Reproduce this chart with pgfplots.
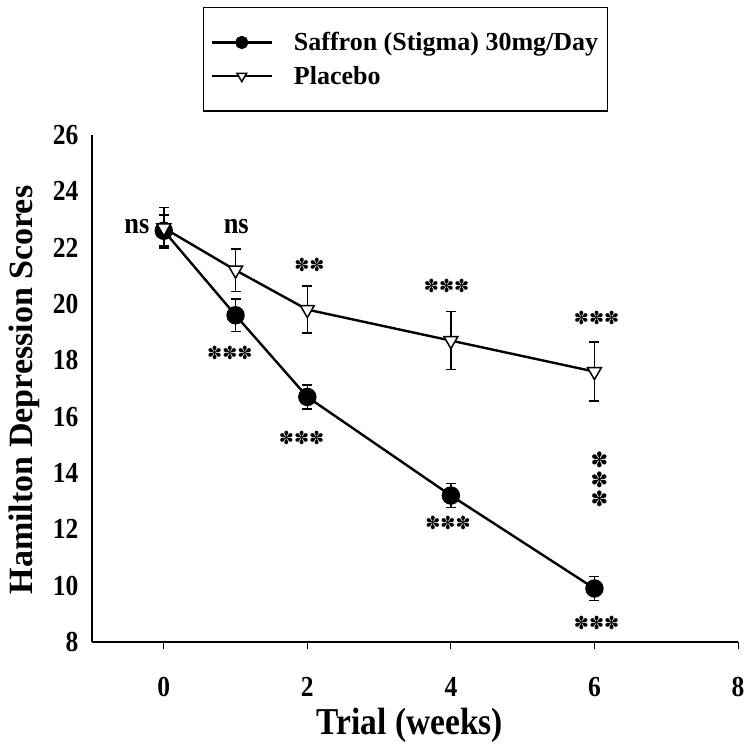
\documentclass[border=0pt]{standalone}
\usepackage{fontspec}
\setmainfont{Liberation Serif}
\newfontfamily\condfont{Liberation Serif}[FakeStretch=0.88]
\newfontfamily\symfont{DejaVu Sans}
\usepackage{pgfplots}
\usepackage{pgfplotstable}
\pgfplotsset{compat=1.18}
\pgfplotstableread{
x y e
0 22.6 0.55
1 19.6 0.57
2 16.7 0.43
4 13.2 0.43
6 9.9 0.43
}\saffron
\pgfplotstableread{
x y e
0 22.7 0.72
1 21.2 0.75
2 19.8 0.83
4 18.7 1.03
6 17.6 1.05
}\placebo
\newcommand{\st}{{\symfont\fontsize{18}{20}\selectfont ✽✽✽}}
\begin{document}
\begin{tikzpicture}
\path[use as bounding box] (-92pt,-112pt) rectangle (652pt,642pt);
\begin{axis}[
  at={(0pt,0pt)}, anchor=south west,
  scale only axis, width=646pt, height=507pt,
  xmin=-1, xmax=8, ymin=8, ymax=26,
  axis x line*=bottom, axis y line*=left,
  x axis line style={line width=2.8pt, -},
  y axis line style={line width=2.2pt, -},
  xtick={0,2,4,6,8}, ytick={8,10,...,26},
  ytick style={draw=none},
  xtick style={line width=1pt, black},
  tick align=outside, major tick length=7pt,
  /pgf/number format/assume math mode=true,
  ticklabel style={font=\condfont\fontsize{29}{32}\selectfont\bfseries},
  xticklabel style={yshift=-25pt},
  yticklabel style={xshift=-3pt},
  xlabel={Trial (weeks)},
  xlabel style={font=\condfont\fontsize{38}{42}\selectfont\bfseries, at={(axis description cs:0.492,0)}, anchor=center, yshift=-83pt},
  ylabel={Hamilton Depression Scores},
  ylabel style={font=\fontsize{34}{38}\selectfont\bfseries, at={(axis description cs:0,0.497)}, anchor=center, yshift=68pt},
  legend style={at={(axis description cs:0.172,1.2525)}, anchor=north west, draw=black, line width=1.2pt,
    font=\fontsize{26}{30}\selectfont\bfseries, inner xsep=7pt, inner ysep=23pt, row sep=10pt, legend cell align=left,
    /tikz/every odd column/.append style={column sep=19pt}},
  legend image code/.code={\draw[mark repeat=2,mark phase=2,#1] plot coordinates {(0pt,0pt)(30pt,0pt)(60pt,0pt)};},
  legend image post style={mark size=5.5pt, line width=2.2pt},
  clip=false,
]
\addplot[black, line width=2.4pt, mark=*, mark size=8pt, mark options={solid, fill=black},
  error bars/.cd, y dir=both, y explicit,
  error bar style={line width=1.6pt},
  error mark options={rotate=90, mark size=5pt, line width=1.6pt}]
  table[x=x, y=y, y error=e] {\saffron};
\addlegendentry{Saffron (Stigma) 30mg/Day}
\addplot[black, line width=2.4pt, mark=triangle*, mark size=8pt, mark options={solid, fill=white, rotate=180, line width=1.5pt},
  error bars/.cd, y dir=both, y explicit,
  error bar style={line width=1.6pt},
  error mark options={rotate=90, mark size=5pt, line width=1.6pt}]
  table[x=x, y=y, y error=e] {\placebo};
\addlegendentry{Placebo}
\node[font=\condfont\fontsize{30}{32}\selectfont\bfseries] at (axis cs:-0.375,22.74) {ns};
\node[font=\condfont\fontsize{30}{32}\selectfont\bfseries] at (axis cs:1.01,22.74) {ns};
\node at (axis cs:2.03,21.4) {\symfont\fontsize{18}{20}\selectfont ✽✽};
\node at (axis cs:0.92,18.27) {\st};
\node at (axis cs:1.92,15.26) {\st};
\node at (axis cs:3.94,20.63) {\st};
\node at (axis cs:3.96,12.22) {\st};
\node at (axis cs:6.03,19.52) {\st};
\node at (axis cs:6.03,8.68) {\st};
\node[inner sep=0pt] at (axis cs:6.07,14.48) {\symfont\fontsize{21}{22}\selectfont ✽};
\node[inner sep=0pt] at (axis cs:6.07,13.76) {\symfont\fontsize{21}{22}\selectfont ✽};
\node[inner sep=0pt] at (axis cs:6.07,13.08) {\symfont\fontsize{21}{22}\selectfont ✽};
\end{axis}
\end{tikzpicture}
\end{document}
